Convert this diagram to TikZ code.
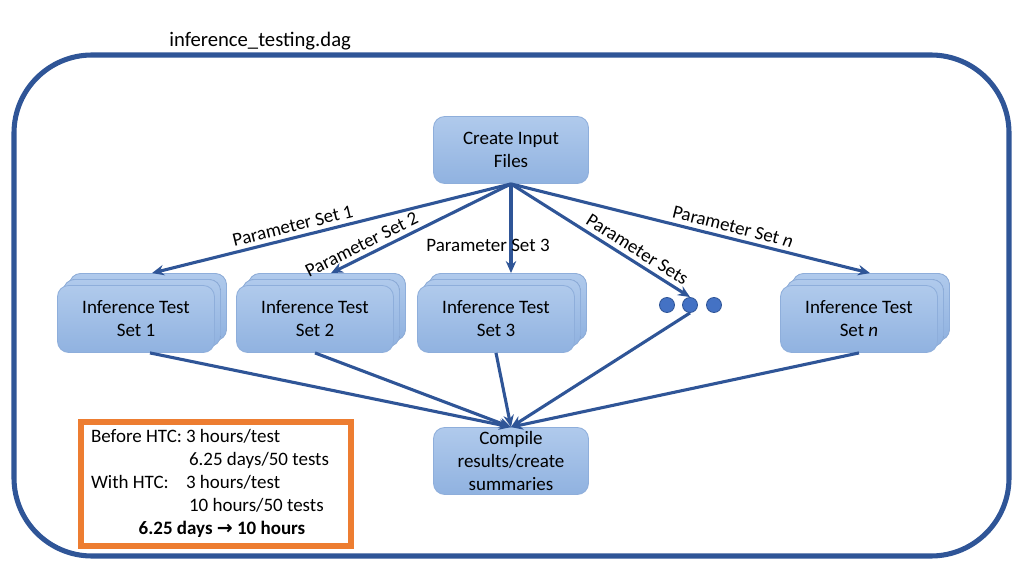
\documentclass[tikz,border=0pt]{standalone}
\usepackage{fontspec}
\setmainfont{Carlito}
\newfontfamily\arrowfont{DejaVu Sans}
\usepackage{xcolor}
\usepackage{tikz}
\usetikzlibrary{arrows.meta}
\usetikzlibrary{shadows}

\newdimen\pixu \pixu=0.025cm

\definecolor{frameblue}{HTML}{2F5597}
\definecolor{boxtop}{HTML}{B0CAEC}
\definecolor{boxbottom}{HTML}{90B2E0}
\definecolor{boxline}{HTML}{8EAEDB}
\definecolor{dotblue}{HTML}{4472C4}
\definecolor{htcorange}{HTML}{ED7D31}

\tikzset{
  flowbox/.style={draw=boxline, line width=0.6pt, rounded corners=8pt,
    top color=boxtop, bottom color=boxbottom, align=center,
    minimum width=155\pixu, minimum height=67\pixu, inner sep=2pt},
  stackbox/.style={flowbox, minimum width=157\pixu,
    double copy shadow={shadow xshift=6\pixu, shadow yshift=6\pixu,
      draw=boxline, top color=boxtop, bottom color=boxbottom}},
  flow/.style={draw=frameblue, line width=2.2pt, -{Stealth[length=3mm,width=2.6mm]}},
  feed/.style={draw=frameblue, line width=2.2pt, -{Stealth[length=3mm,width=2.6mm]}},
  plabel/.style={font=\fontsize{13.5}{16}\selectfont, inner sep=3pt},
  dotnode/.style={circle, fill=dotblue, draw=frameblue, line width=0.6pt, minimum size=15\pixu, inner sep=0pt}
}

\begin{document}
\begin{tikzpicture}[x=0.025cm, y=-0.025cm, font=\fontsize{13.5}{16.3}\selectfont]
    \useasboundingbox (0,0) rectangle (1024,576);
    %
    \node[anchor=west, inner sep=0pt, font=\fontsize{14.7}{17}\selectfont] (dagname) at (169,41) {inference\_testing.dag};
    \draw[frameblue, line width=3.6pt, rounded corners=78\pixu] (14,55) rectangle (1009,556);
    %
    \node[flowbox] (create) at (511,150) {Create Input\\Files};
    \node[stackbox] (set1) at (136,319) {Inference Test\\Set 1};
    \node[stackbox] (set2) at (315,319) {Inference Test\\Set 2};
    \node[stackbox] (set3) at (496,319) {Inference Test\\Set 3};
    \node[stackbox] (setn) at (859,319) {Inference Test\\Set \textit{n}};
    \node[dotnode] (dot1) at (667,305) {};
    \node[dotnode] (dot2) at (690,305) {};
    \node[dotnode] (dot3) at (714,305) {};
    \node[flowbox] (compile) at (511,461) {Compile\\results/create\\summaries};
    %
    \coordinate (fan) at (create.south);
    \coordinate (sink) at (compile.north);
    \draw[flow] (fan) -- ([xshift=16\pixu, yshift=12\pixu]set1.north)
      node[plabel, pos=0.6, sloped, above] {Parameter Set 1};
    \draw[flow] (fan) -- ([xshift=16\pixu, yshift=12\pixu]set2.north)
      node[plabel, pos=0.8, sloped, above] {Parameter Set 2};
    \draw[flow] (fan) -- ([xshift=15\pixu, yshift=12\pixu]set3.north);
    \node[plabel] (p3) at (488,245) {Parameter Set 3};
    \draw[flow] (fan) -- (dot2.north)
      node[plabel, pos=0.67, sloped, above] {Parameter Sets};
    \draw[flow] (fan) -- ([xshift=11\pixu, yshift=12\pixu]setn.north)
      node[plabel, pos=0.61, sloped, above] {Parameter Set \textit{n}};
    %
    \draw[feed] ([xshift=14\pixu]set1.south) -- (sink);
    \draw[feed] (set2.south) -- (sink);
    \draw[feed] (set3.south) -- (sink);
    \draw[feed] (dot2.south) -- (sink);
    \draw[feed] (setn.south) -- (sink);
    %
    \node[draw=htcorange, line width=3.6pt, minimum width=270\pixu, minimum height=124\pixu,
      inner sep=0pt, font=\fontsize{13.5}{16.3}\selectfont] (speedup) at (216,484)
      {\renewcommand{\arraystretch}{1}%
       \begin{tabular}{@{}l@{\hspace{4\pixu}}l@{\hspace{12\pixu}}}
       Before HTC: & 3 hours/test\\
        & \hspace{3\pixu}6.25 days/50 tests\\
       With HTC: & 3 hours/test\\
        & \hspace{3\pixu}10 hours/50 tests\\
       \multicolumn{2}{c}{\hspace{12\pixu}\textbf{6.25 days {\arrowfont\bfseries →} 10 hours}}
       \end{tabular}};
\end{tikzpicture}
\end{document}
